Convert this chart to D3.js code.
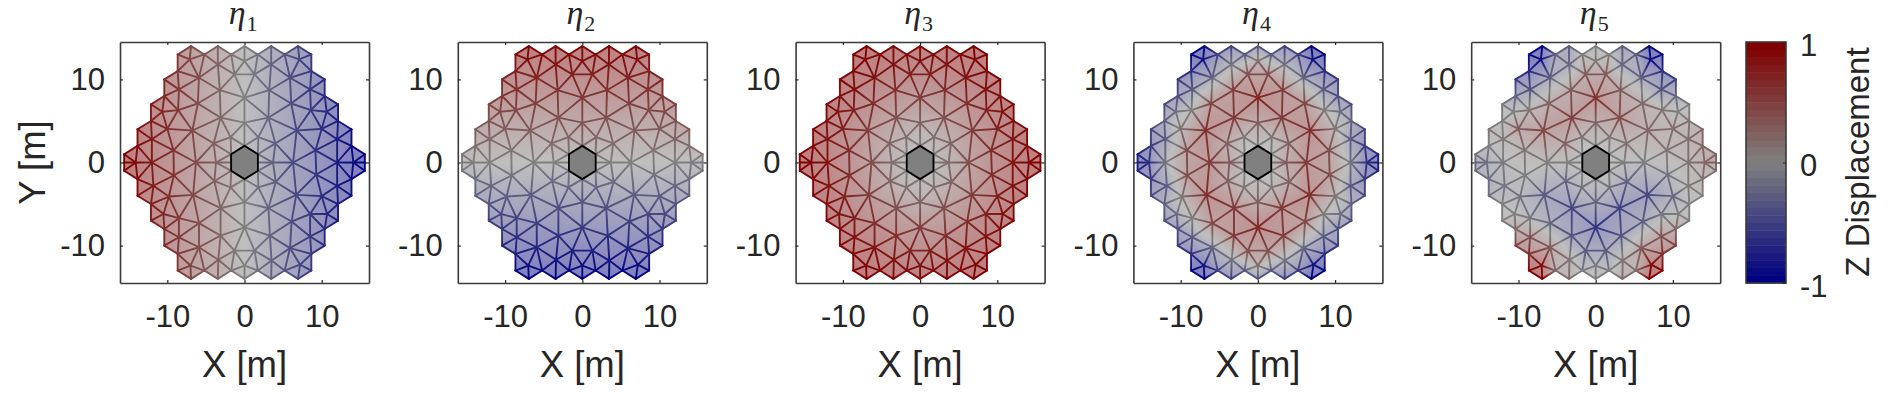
<!DOCTYPE html>
<html>
<head>
<meta charset="utf-8">
<script src="https://cdn.jsdelivr.net/npm/d3@7"></script>
<style>
body { margin: 0; background: #fff; }
text { font-family: "Liberation Sans", Arial, sans-serif; fill: #262626; }
</style>
</head>
<body>
<svg class="modes"></svg>
<script>
// mesh nodes in metres, one source row per line, top of the mirror to the bottom
var nodeX = [
	-6.93, -3.46, 0, 3.46, 6.93,
	-8.66, -5.2, -1.73, 1.73, 5.2, 8.66,
	-7.1, -3.45, 0, 3.45, 7.1,
	-8.66, -5.9, -1.3, 1.3, 5.9, 8.66,
	-10.39, -8.5, -3.2, 3.2, 8.5, 10.39,
	-10.39, -6.05, 0, 6.05, 10.39,
	-12.12, -10.65, -8.6, 8.6, 10.65, 12.12,
	-12.12, -3.1, 0, 3.1, 12.12,
	-13.86, -10, -6.75, 6.75, 10, 13.86,
	-12, -1.8, 1.8, 12,
	-13.86, -4, 0, 4, 13.86,
	-15.59, -9.2, -1.73, 1.73, 9.2, 15.59,
	-15.59, -14.1, -12, -6.3, -3.7, -1.73, 1.73, 3.7, 6.3, 12, 14.1, 15.59,
	-15.59, -9.15, -1.73, 1.73, 9.3, 15.59,
	-13.86, -3.9, 0, 4.05, 13.86,
	-11.8, -1.8, 1.8, 12,
	-13.86, -9.8, -6.65, 6.7, 10, 13.86,
	-12.12, -3.1, 0, 3.1, 12.12,
	-12.12, -10.5, -8.5, 8.5, 10.7, 12.12,
	-10.39, -5.9, 0, 6.1, 10.39,
	-10.39, -8.5, -3.1, 3.3, 8.5, 10.39,
	-8.66, -5.9, -1.3, 1.3, 5.9, 8.66,
	-7, -3.4, 0, 3.5, 7.2,
	-8.66, -5.2, -1.73, 1.73, 5.2, 8.66,
	-6.93, -3.46, 0, 3.46, 6.93
];
var nodeY = [
	14, 14, 14, 14, 14,
	13, 13, 13, 13, 13, 13,
	12.4, 11.8, 12.2, 11.8, 12.4,
	11, 10.2, 10.6, 10.6, 10.2, 11,
	10, 8.8, 8.7, 8.7, 8.8, 10,
	8, 7.1, 7.8, 7.1, 8,
	7, 6.1, 6.3, 6.3, 6.1, 7,
	5, 5.4, 4.8, 5.4, 5,
	4, 4.05, 3.85, 3.85, 4.05, 4,
	2.8, 3.05, 3.05, 2.8,
	2, 2.3, 2, 2.3, 2,
	1, 1.45, 1, 1, 1.45, 1,
	0, 0, 0, 0, 0, 0, 0, 0, 0, 0, 0, 0,
	-1, -1.55, -1, -1, -1.45, -1,
	-2, -2.25, -2, -2.35, -2,
	-2.8, -3, -3, -2.8,
	-4, -4.1, -3.9, -3.9, -4.05, -4,
	-5, -5.5, -4.8, -5.5, -5,
	-7, -6.2, -6.7, -6.2, -6.2, -7,
	-8, -7.3, -7.8, -7.1, -8,
	-10, -9, -8.8, -8.8, -8.9, -10,
	-11, -10.2, -10.6, -10.6, -10.3, -11,
	-12.4, -11.7, -12.4, -11.8, -12.3,
	-13, -13, -13, -13, -13, -13,
	-14, -14, -14, -14, -14
];

// mode shapes, same order as the nodes
var eta1 = [
	.45, .22, 0, -.22, -.45,
	.56, .33, .11, -.11, -.33, -.56,
	.46, .22, 0, -.22, -.46,
	.56, .38, .08, -.08, -.38, -.56,
	.67, .55, .21, -.21, -.55, -.67,
	.67, .39, 0, -.39, -.67,
	.78, .69, .55, -.55, -.69, -.78,
	.78, .2, 0, -.2, -.78,
	.9, .65, .44, -.44, -.65, -.9,
	.78, .12, -.12, -.78,
	.9, .26, 0, -.26, -.9,
	1, .6, .11, -.11, -.6, -1,
	1, .92, .78, .41, .24, .11, -.11, -.24, -.41, -.78, -.92, -1,
	1, .6, .11, -.11, -.6, -1,
	.9, .25, 0, -.26, -.9,
	.77, .12, -.12, -.78,
	.9, .64, .43, -.44, -.65, -.9,
	.78, .2, 0, -.2, -.78,
	.78, .68, .55, -.55, -.7, -.78,
	.67, .38, 0, -.39, -.67,
	.67, .55, .2, -.21, -.55, -.67,
	.56, .38, .08, -.08, -.38, -.56,
	.45, .22, 0, -.23, -.46,
	.56, .33, .11, -.11, -.33, -.56,
	.45, .22, 0, -.22, -.45
];
var eta2 = [
	.98, .98, .95, .98, .98,
	.9, .92, .92, .92, .92, .9,
	.88, .84, .86, .84, .88,
	.76, .72, .76, .76, .72, .76,
	.7, .62, .62, .62, .62, .7,
	.56, .5, .55, .5, .56,
	.5, .43, .45, .45, .43, .5,
	.35, .38, .34, .38, .35,
	.28, .28, .27, .27, .28, .28,
	.2, .22, .22, .2,
	.14, .16, .14, .16, .14,
	.07, .1, .07, .07, .1, .07,
	.03, .02, .01, 0, 0, 0, 0, 0, 0, -.01, -.02, -.03,
	-.07, -.11, -.07, -.07, -.1, -.07,
	-.14, -.16, -.14, -.17, -.14,
	-.2, -.21, -.21, -.2,
	-.28, -.29, -.28, -.28, -.29, -.28,
	-.35, -.39, -.34, -.39, -.35,
	-.5, -.44, -.48, -.44, -.44, -.5,
	-.57, -.52, -.55, -.5, -.57,
	-.71, -.64, -.63, -.63, -.64, -.71,
	-.78, -.73, -.76, -.76, -.74, -.78,
	-.89, -.84, -.89, -.85, -.88,
	-.93, -.93, -.93, -.93, -.93, -.93,
	-1, -1, -.98, -1, -1
];
var eta3 = [
	1, .96, .93, .96, 1,
	1, .95, .9, .9, .95, 1,
	.96, .86, .85, .86, .96,
	.95, .84, .75, .75, .84, .95,
	.96, .86, .65, .65, .86, .96,
	.9, .65, .53, .65, .9,
	.95, .86, .75, .75, .86, .95,
	.9, .38, .22, .38, .9,
	.96, .76, .52, .52, .76, .96,
	.86, .13, .13, .86,
	.95, .22, .05, .22, .95,
	1, .65, .05, .05, .65, 1,
	1, .96, .85, .4, .16, .04, .04, .16, .4, .85, .96, 1,
	1, .65, .05, .05, .65, 1,
	.95, .22, .05, .22, .95,
	.85, .13, .13, .86,
	.96, .75, .52, .52, .76, .96,
	.9, .39, .22, .39, .9,
	.95, .85, .77, .74, .86, .95,
	.9, .65, .53, .65, .9,
	.96, .87, .65, .65, .86, .96,
	.95, .84, .75, .75, .84, .95,
	.96, .85, .86, .86, .96,
	1, .95, .9, .9, .95, 1,
	1, .96, .93, .96, 1
];
var eta4 = [
	-1, -.5, -.35, -.5, -1,
	-.95, -.5, -.3, -.3, -.5, -.95,
	-.85, -.1, .15, -.1, -.85,
	-.65, -.2, .4, .4, -.2, -.65,
	-.55, -.3, .55, .55, -.3, -.55,
	-.4, .45, .7, .45, -.4,
	-.4, -.15, .05, .05, -.15, -.4,
	-.25, .55, .25, .55, -.25,
	-.45, .1, .65, .65, .1, -.45,
	-.3, .08, .08, -.3,
	-.55, .25, 0, .25, -.55,
	-.75, .4, 0, 0, .4, -.75,
	-.8, -.65, -.1, .55, .3, 0, 0, .3, .55, -.1, -.65, -.8,
	-.75, .4, 0, 0, .4, -.75,
	-.55, .25, 0, .25, -.55,
	-.3, .08, .08, -.3,
	-.45, .1, .65, .65, .1, -.45,
	-.25, .55, .25, .55, -.25,
	-.4, -.15, .05, .05, -.15, -.4,
	-.4, .45, .7, .45, -.4,
	-.55, -.3, .55, .55, -.3, -.55,
	-.65, -.2, .4, .4, -.2, -.65,
	-.85, -.1, .15, -.1, -.85,
	-.95, -.5, -.3, -.3, -.5, -.95,
	-1, -.5, -.35, -.5, -1
];
var eta5 = [
	-1, -.3, 0, -.3, -1,
	-.95, -.25, .02, .02, -.25, -.9,
	-.9, -.2, .05, -.2, -.9,
	-.7, -.25, .3, .3, -.25, -.65,
	-.55, -.35, .3, .3, -.35, -.5,
	-.25, .25, .6, .2, -.2,
	-.05, 0, .1, .1, .02, -.02,
	-.02, .5, .2, .42, .1,
	.1, .3, .45, .2, .15, .2,
	.05, .1, .08, .15,
	-.02, .22, 0, .12, .22,
	-.1, .1, 0, 0, .1, .25,
	-.2, -.15, -.05, .02, .02, 0, 0, -.02, -.02, .1, .2, .28,
	-.15, -.02, 0, 0, -.1, .15,
	-.15, -.2, -.02, -.25, .1,
	-.1, -.1, -.12, .05,
	-.15, -.1, -.3, -.45, -.2, .02,
	-.02, -.45, -.2, -.5, 0,
	.02, .02, -.08, -.1, 0, .05,
	.2, -.22, -.6, -.25, .2,
	.5, .35, -.35, -.35, .35, .5,
	.65, .3, -.3, -.3, .3, .65,
	.9, .1, -.05, .1, .9,
	.95, .15, -.05, -.05, .15, .95,
	1, .15, 0, .15, 1
];

var modes = [eta1, eta2, eta3, eta4, eta5];
var modeSubs = ["1", "2", "3", "4", "5"];

// mirror outline and the hole in the middle
var outlineX = [-8.66, -6.93, -5.2, -3.46, -1.73, 0, 1.73, 3.46, 5.2, 6.93, 8.66, 8.66, 10.39, 10.39, 12.12, 12.12, 13.86, 13.86, 15.59, 15.59,
	13.86, 13.86, 12.12, 12.12, 10.39, 10.39, 8.66, 8.66, 6.93, 5.2, 3.46, 1.73, 0, -1.73, -3.46, -5.2, -6.93, -8.66, -8.66,
	-10.39, -10.39, -12.12, -12.12, -13.86, -13.86, -15.59, -15.59, -13.86, -13.86, -12.12, -12.12, -10.39, -10.39, -8.66];
var outlineY = [13, 14, 13, 14, 13, 14, 13, 14, 13, 14, 13, 11, 10, 8, 7, 5, 4, 2, 1, -1,
	-2, -4, -5, -7, -8, -10, -11, -13, -14, -13, -14, -13, -14, -13, -14, -13, -14, -13, -11,
	-10, -8, -7, -5, -4, -2, -1, 1, 2, 4, 5, 7, 8, 10, 11];
var holeX = [0, 1.73, 1.73, 0, -1.73, -1.73];
var holeY = [2, 1, -1, -2, -1, 1];

var xTicks = [-10, 0, 10];
var yTicks = [-10, 0, 10];
var barTicks = [-1, 0, 1];
var barSteps = d3.range(32);

var svgWidth = 1888, svgHeight = 395;
var panelLeft = 120, panelStep = 337.8, panelWidth = 249;
var panelTop = 42, panelHeight = 241;

var svg = d3.select(".modes")
	.attr("width", svgWidth)
	.attr("height", svgHeight);
var defs = svg.append("defs");

var edgeColor = d3.scaleLinear()
	.domain([-1, 0, 1])
	.range(["rgb(0,0,128)", "rgb(128,128,128)", "rgb(128,0,0)"]);
// faces were drawn half transparent on white
var faceColor = d3.scaleLinear()
	.domain([-1, 0, 1])
	.range(["rgb(127,127,191)", "rgb(191,191,191)", "rgb(191,127,127)"]);

var outline = outlineX.map(function(d, i) { return [d, outlineY[i]] });
var hole = holeX.map(function(d, i) { return [d, holeY[i]] });

// triangles of the mesh, keeping the ones on the mirror only
var delaunay = d3.Delaunay.from(nodeX.map(function(d, i) { return [d, nodeY[i]] }));
var triangles = [];
for (var t = 0; t < delaunay.triangles.length; t += 3) {
	var a = delaunay.triangles[t], b = delaunay.triangles[t + 1], c = delaunay.triangles[t + 2];
	var mid = [(nodeX[a] + nodeX[b] + nodeX[c]) / 3, (nodeY[a] + nodeY[b] + nodeY[c]) / 3];
	if (d3.polygonContains(outline, mid) && !d3.polygonContains(hole, mid)) {
		triangles.push([a, b, c]);
	}
}
var edgeSeen = {};
var edges = [];
triangles.forEach(function(tri) {
	[[tri[0], tri[1]], [tri[1], tri[2]], [tri[2], tri[0]]].forEach(function(e) {
		var key = Math.min(e[0], e[1]) + "_" + Math.max(e[0], e[1]);
		if (!edgeSeen[key]) {
			edgeSeen[key] = true;
			edges.push(e);
		}
	});
});

var gradCount = 0;
// value runs linearly from v1 to v2 between the two points, colour has a knot at zero
function addGradient(x1, y1, x2, y2, v1, v2, color) {
	var id = "g" + (gradCount++);
	var grad = defs.append("linearGradient")
		.attr("id", id)
		.attr("gradientUnits", "userSpaceOnUse")
		.attr("x1", x1).attr("y1", y1)
		.attr("x2", x2).attr("y2", y2);
	grad.append("stop").attr("offset", 0).attr("stop-color", color(v1));
	if (v1 * v2 < 0) {
		grad.append("stop").attr("offset", v1 / (v1 - v2)).attr("stop-color", color(0));
	}
	grad.append("stop").attr("offset", 1).attr("stop-color", color(v2));
	return "url(#" + id + ")";
}

function faceFill(tri, values, x, y) {
	var px = tri.map(function(n) { return x(nodeX[n]) });
	var py = tri.map(function(n) { return y(nodeY[n]) });
	var v = tri.map(function(n) { return values[n] });
	var area = (px[1] - px[0]) * (py[2] - py[0]) - (px[2] - px[0]) * (py[1] - py[0]);
	var gx = ((v[1] - v[0]) * (py[2] - py[0]) - (v[2] - v[0]) * (py[1] - py[0])) / area;
	var gy = ((v[2] - v[0]) * (px[1] - px[0]) - (v[1] - v[0]) * (px[2] - px[0])) / area;
	var len = gx * gx + gy * gy;
	if (len == 0) return faceColor(v[0]);
	var lo = d3.minIndex(v), hi = d3.maxIndex(v);
	var span = v[hi] - v[lo];
	return addGradient(px[lo], py[lo], px[lo] + gx * span / len, py[lo] + gy * span / len, v[lo], v[hi], faceColor);
}

function drawPanel(values, index) {
	var left = panelLeft + index * panelStep;
	var g = svg.append("g")
		.attr("transform", "translate(" + left + "," + panelTop + ")");

	var x = d3.scaleLinear().domain([-16.13, 16.13]).range([0, panelWidth]);
	var y = d3.scaleLinear().domain([-14.5, 14.5]).range([panelHeight, 0]);
	var line = d3.line()
		.x(function(n) { return x(nodeX[n]) })
		.y(function(n) { return y(nodeY[n]) });

	g.append("g").selectAll("path")
		.data(triangles)
		.enter().append("path")
		.attr("d", function(tri) { return line(tri) + "Z" })
		.attr("fill", function(tri) { return faceFill(tri, values, x, y) });

	g.append("g").selectAll("line")
		.data(edges)
		.enter().append("line")
		.attr("x1", function(e) { return x(nodeX[e[0]]) })
		.attr("y1", function(e) { return y(nodeY[e[0]]) })
		.attr("x2", function(e) { return x(nodeX[e[1]]) })
		.attr("y2", function(e) { return y(nodeY[e[1]]) })
		.attr("stroke-width", 1.9)
		.attr("stroke-linecap", "round")
		.attr("stroke", function(e) {
			if (values[e[0]] == values[e[1]]) return edgeColor(values[e[0]]);
			return addGradient(x(nodeX[e[0]]), y(nodeY[e[0]]), x(nodeX[e[1]]), y(nodeY[e[1]]), values[e[0]], values[e[1]], edgeColor);
		});

	g.append("path")
		.attr("d", d3.line().x(function(d) { return x(d[0]) }).y(function(d) { return y(d[1]) })(hole) + "Z")
		.attr("fill", "#808080")
		.attr("stroke", "#000")
		.attr("stroke-width", 1.8);

	var noLabel = function() { return "" };
	var plain = function(d) { return "" + d };
	var tickSize = 3;
	var axes = [
		{ axis: d3.axisBottom(x).tickValues(xTicks).tickSizeInner(-tickSize).tickSizeOuter(0).tickPadding(22).tickFormat(plain), at: [0, panelHeight] },
		{ axis: d3.axisLeft(y).tickValues(yTicks).tickSizeInner(-tickSize).tickSizeOuter(0).tickPadding(15).tickFormat(plain), at: [0, 0] },
		{ axis: d3.axisTop(x).tickValues(xTicks).tickSizeInner(-tickSize).tickSizeOuter(0).tickFormat(noLabel), at: [0, 0] },
		{ axis: d3.axisRight(y).tickValues(yTicks).tickSizeInner(-tickSize).tickSizeOuter(0).tickFormat(noLabel), at: [panelWidth, 0] }
	];
	axes.forEach(function(a) {
		var ag = g.append("g")
			.attr("transform", "translate(" + a.at[0] + "," + a.at[1] + ")")
			.call(a.axis);
		ag.select(".domain").attr("stroke", "#3a3a3a").attr("stroke-width", 1.6);
		ag.selectAll(".tick line").attr("stroke", "#262626").attr("stroke-width", 1.2);
		ag.selectAll("text").attr("font-size", 31).attr("font-family", null).attr("fill", "#262626");
	});

	g.append("text")
		.attr("x", panelWidth / 2)
		.attr("y", panelHeight + 94)
		.attr("text-anchor", "middle")
		.attr("font-size", 36.5)
		.text("X [m]");

	if (index == 0) {
		g.append("text")
			.attr("transform", "translate(-75," + (panelHeight / 2) + ") rotate(-90)")
			.attr("text-anchor", "middle")
			.attr("font-size", 36.5)
			.text("Y [m]");
	}

	// title letter and its subscript
	g.append("text")
		.attr("x", panelWidth / 2 + 1)
		.attr("y", -18)
		.attr("text-anchor", "end")
		.attr("font-style", "italic")
		.attr("font-size", 34)
		.style("font-family", "'Liberation Serif', serif")
		.text("\u03b7");
	g.append("text")
		.attr("x", panelWidth / 2 + 2)
		.attr("y", -11)
		.attr("font-size", 22)
		.style("font-family", "'Liberation Serif', serif")
		.text(modeSubs[index]);
}

modes.forEach(drawPanel);

// colorbar
var barLeft = 1746, barWidth = 40;
var barScale = d3.scaleLinear().domain([-1, 1]).range([panelTop + panelHeight, panelTop]);
var barBand = d3.scaleBand().domain(barSteps).range([panelTop + panelHeight, panelTop]);

svg.append("g").selectAll("rect")
	.data(barSteps)
	.enter().append("rect")
	.attr("x", barLeft)
	.attr("width", barWidth)
	.attr("y", function(d) { return barBand(d) })
	.attr("height", barBand.bandwidth() + 0.5)
	.attr("fill", function(d) { return edgeColor(-1 + 2 * d / (barSteps.length - 1)) });

svg.append("rect")
	.attr("x", barLeft)
	.attr("y", panelTop)
	.attr("width", barWidth)
	.attr("height", panelHeight)
	.attr("fill", "none")
	.attr("stroke", "#3a3a3a")
	.attr("stroke-width", 1.6);

var barAxis = svg.append("g")
	.attr("transform", "translate(" + (barLeft + barWidth) + ",0)")
	.call(d3.axisRight(barScale).tickValues(barTicks).tickSizeInner(-3).tickSizeOuter(0).tickPadding(14).tickFormat(function(d) { return "" + d }));
barAxis.select(".domain").remove();
barAxis.selectAll(".tick line").attr("stroke", "#262626");
barAxis.selectAll("text")
	.attr("font-size", 31)
	.attr("font-family", null)
	.attr("fill", "#262626")
	.attr("dy", "0.42em");

svg.append("text")
	.attr("transform", "translate(1869,162) rotate(-90)")
	.attr("text-anchor", "middle")
	.attr("font-size", 33)
	.text("Z Displacement");
</script>
</body>
</html>
